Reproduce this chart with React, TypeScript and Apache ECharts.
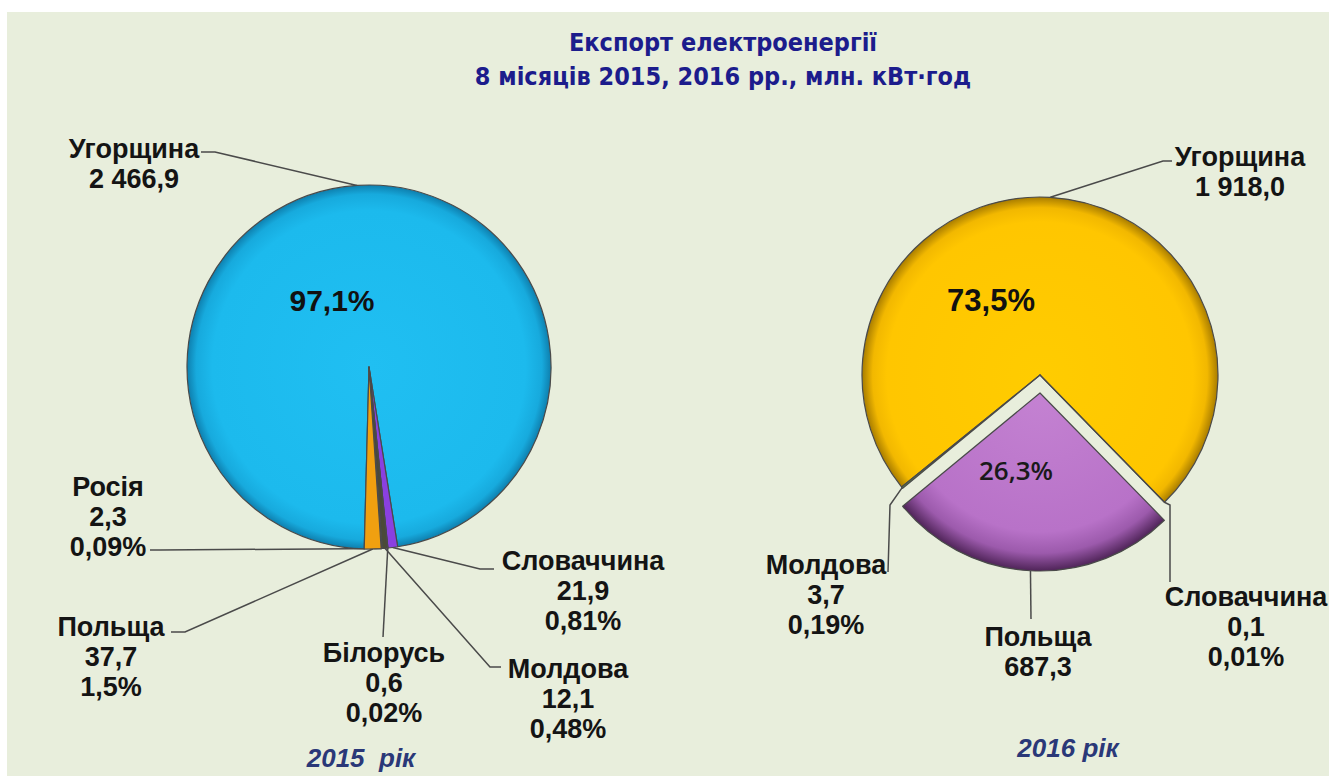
import React, { useEffect, useRef } from "react";
import * as echarts from "echarts";

// ---- data ----
const names2015 = ["Угорщина", "Словаччина", "Білорусь", "Молдова", "Росія", "Польща"];
const values2015 = [2466.9, 21.9, 0.6, 12.1, 2.3, 37.7];
const valueText2015 = ["2 466,9", "21,9", "0,6", "12,1", "2,3", "37,7"];
const share2015 = ["97,1%", "0,81%", "0,02%", "0,48%", "0,09%", "1,5%"];

const names2016 = ["Угорщина", "Словаччина", "Польща", "Молдова"];
const values2016 = [1918.0, 0.1, 687.3, 3.7];
const valueText2016 = ["1 918,0", "0,1", "687,3", "3,7"];
const share2016 = ["73,5%", "0,01%", "26,3%", "0,19%"];

const titleLines = ["Експорт електроенергії", "8 місяців 2015, 2016 рр., млн. кВт·год"];
const yearLabels = ["2015  рік", "2016 рік"];

// ---- layout / style ----
const LABEL_FONT = "'Liberation Sans', Arial, sans-serif";
const C1 = [369, 367];
const R1 = 182;
const C2 = [1040, 375];
const R2 = 178;
const EXPLODE = 18; // exploded slice offset (pixels, straight down)
const EXPLODED_INDEX_2016 = 2;

const labelCenters2015 = [
  [134, 164], [583, 591], [384, 683], [568, 699], [108, 517], [111, 657],
];
const labelLineTail2015 = [
  [[215, 152], [201, 152]],
  [[480, 569], [494, 569]],
  [[383, 637], [383, 637]],
  [[490, 667], [501, 667]],
  [[160, 550], [150, 550]],
  [[185, 632], [171, 632]],
];
const insideCenters2015 = [[332, 300]];

const labelCenters2016 = [[1240, 172], [1246, 627], [1038, 652], [826, 595]];
const labelLineTail2016 = [
  [[1163, 161], [1172, 161]],
  [[1170, 505], [1170, 582]],
  [[1031, 619], [1031, 619]],
  [[890, 505], [888, 572]],
];
const insideCenters2016: Record<number, number[]> = { 0: [991, 300], 2: [1016, 470] };

const colors2015 = ["#1ebcee", "#8a40e0", "#62a030", "#4a4a38", "#6a3a28", "#f0a010"];
const colors2016 = ["#ffc800", "#3a7ad0", "#b872c8", "#60a040"];

const TRANSPARENT = "rgba(0,0,0,0)";

function radial(cx: number, cy: number, r: number, stops: [number, string][]) {
  return {
    type: "radial",
    x: cx,
    y: cy,
    r,
    global: true,
    colorStops: stops.map(([offset, color]) => ({ offset, color })),
  };
}

function buildOptions() {
  const total2015 = values2015.reduce((a, b) => a + b, 0);
  const total2016 = values2016.reduce((a, b) => a + b, 0);

  const outsideText = (i: number, names: string[], vt: string[], sh: string[], vals: number[], tot: number) =>
    vals[i] / tot > 0.1 ? `${names[i]}\n${vt[i]}` : `${names[i]}\n${vt[i]}\n${sh[i]}`;

  const labelBase = {
    show: true,
    position: "outside",
    fontFamily: LABEL_FONT,
    fontWeight: "bold",
    fontSize: 27,
    lineHeight: 30,
    color: "#141414",
  };
  const lineStyle = { color: "#4a4a4a", width: 1.5 };
  const border = { borderColor: "#4a4a4a", borderWidth: 1.2 };

  const data2015 = names2015.map((n, i) => ({
    name: n,
    value: values2015[i],
    itemStyle: {
      color:
        i === 0
          ? radial(C1[0], C1[1], R1, [
              [0, "#20bff2"],
              [0.86, "#1cbaed"],
              [0.95, "#17aadd"],
              [1, "#0e7fae"],
            ])
          : colors2015[i],
    },
    label: { formatter: outsideText(i, names2015, valueText2015, share2015, values2015, total2015) },
  }));

  // right pie, in place (exploded slice hidden here)
  const data2016 = names2016.map((n, i) => {
    const exploded = i === EXPLODED_INDEX_2016;
    return {
      name: n,
      value: values2016[i],
      itemStyle: exploded
        ? { color: TRANSPARENT, borderWidth: 0 }
        : {
            color:
              i === 0
                ? radial(C2[0], C2[1], R2, [
                    [0, "#ffcc00"],
                    [0.86, "#ffc600"],
                    [0.94, "#f2b800"],
                    [1, "#a87c00"],
                  ])
                : colors2016[i],
          },
      label: exploded
        ? { show: false }
        : { formatter: outsideText(i, names2016, valueText2016, share2016, values2016, total2016) },
      labelLine: exploded ? { show: false } : undefined,
    };
  });

  // right pie, exploded slice only
  const C2x = [C2[0], C2[1] + EXPLODE];
  const data2016x = names2016.map((n, i) => {
    const exploded = i === EXPLODED_INDEX_2016;
    return {
      name: n,
      value: values2016[i],
      itemStyle: exploded
        ? {
            color: radial(C2x[0], C2x[1], R2, [
              [0, "#c482d2"],
              [0.78, "#b872c8"],
              [0.9, "#9c5aac"],
              [1, "#4f2458"],
            ]),
            ...border,
          }
        : { color: TRANSPARENT, borderWidth: 0 },
      label: exploded
        ? { formatter: outsideText(i, names2016, valueText2016, share2016, values2016, total2016) }
        : { show: false },
      labelLine: exploded ? undefined : { show: false },
    };
  });

  const mkLayout = (centers: number[][], tails: number[][][]) => (p: any) => {
    const i = p.dataIndex;
    const c = centers[i];
    const pts = p.labelLinePoints;
    const res: any = { x: c[0], y: c[1], align: "center", verticalAlign: "middle" };
    if (pts && pts.length) res.labelLinePoints = [pts[0], ...tails[i]];
    return res;
  };

  const insideLabel = {
    show: true,
    position: "inside",
    fontFamily: LABEL_FONT,
    fontWeight: "bold",
    fontSize: 31,
    color: "#111",
  };

  const overlay2015 = names2015.map((n, i) => ({
    name: n,
    value: values2015[i],
    label: i === 0 ? { show: true, formatter: share2015[i], fontSize: 30 } : { show: false },
  }));
  const overlay2016 = names2016.map((n, i) => ({
    name: n,
    value: values2016[i],
    label:
      insideCenters2016[i] != null
        ? {
            show: true,
            formatter: share2016[i],
            fontWeight: i === EXPLODED_INDEX_2016 ? 600 : "bold",
            fontSize: i === EXPLODED_INDEX_2016 ? 26 : 31,
            fontFamily: i === EXPLODED_INDEX_2016 ? "'Open Sans', 'Liberation Sans', sans-serif" : LABEL_FONT,
            color: i === EXPLODED_INDEX_2016 ? "#1a1a1a" : "#111",
          }
        : { show: false },
  }));

  const pieCommon = {
    type: "pie",
    clockwise: true,
    avoidLabelOverlap: false,
    emphasis: { disabled: true },
  };

  const yearStyle = {
    fontFamily: LABEL_FONT,
    fontStyle: "italic",
    fontWeight: "bold",
    fontSize: 26,
    color: "#2a3878",
  };

  return {
    animation: false,
    backgroundColor: "#ffffff",
    graphic: [
      {
        type: "rect",
        z: -10,
        silent: true,
        shape: { x: 7, y: 12, width: 1322, height: 764 },
        style: { fill: "#e8eedc" },
      },
    ],
    title: [
      {
        text: titleLines.join("\n"),
        left: 718,
        top: 20,
        textAlign: "center",
        textStyle: {
          fontFamily: "'Liberation Sans Narrow', 'DejaVu Sans Condensed', sans-serif",
          fontWeight: "bold",
          fontSize: 25,
          lineHeight: 34,
          color: "#1c1c8c",
        },
      },
      { text: yearLabels[0], left: 356, top: 740, textAlign: "center", textStyle: yearStyle },
      { text: yearLabels[1], left: 1063, top: 730, textAlign: "center", textStyle: yearStyle },
    ],
    series: [
      {
        ...pieCommon,
        center: C1,
        radius: R1,
        startAngle: 268.5,
        itemStyle: border,
        label: labelBase,
        labelLine: { show: true, length: 10, length2: 10, lineStyle },
        labelLayout: mkLayout(labelCenters2015, labelLineTail2015),
        data: data2015,
      },
      {
        ...pieCommon,
        center: C2,
        radius: R2,
        startAngle: 219,
        itemStyle: border,
        label: labelBase,
        labelLine: { show: true, length: 10, length2: 10, lineStyle },
        labelLayout: mkLayout(labelCenters2016, labelLineTail2016),
        data: data2016,
      },
      {
        ...pieCommon,
        center: C2x,
        radius: R2,
        startAngle: 219,
        label: labelBase,
        labelLine: { show: true, length: 10, length2: 10, lineStyle },
        labelLayout: mkLayout(labelCenters2016, labelLineTail2016),
        data: data2016x,
      },
      {
        ...pieCommon,
        center: C1,
        radius: R1,
        startAngle: 268.5,
        silent: true,
        itemStyle: { color: TRANSPARENT, borderWidth: 0 },
        label: insideLabel,
        labelLine: { show: false },
        labelLayout: (p: any) => {
          const c = insideCenters2015[p.dataIndex] || [0, 0];
          return { x: c[0], y: c[1], align: "center", verticalAlign: "middle" };
        },
        data: overlay2015,
      },
      {
        ...pieCommon,
        center: C2,
        radius: R2,
        startAngle: 219,
        silent: true,
        itemStyle: { color: TRANSPARENT, borderWidth: 0 },
        label: insideLabel,
        labelLine: { show: false },
        labelLayout: (p: any) => {
          const c = insideCenters2016[p.dataIndex] || [0, 0];
          return { x: c[0], y: c[1], align: "center", verticalAlign: "middle" };
        },
        data: overlay2016,
      },
    ],
  };
}

export default function App() {
  const ref = useRef<HTMLDivElement>(null);
  useEffect(() => {
    if (!ref.current) return;
    const chart = echarts.init(ref.current, undefined, { renderer: "svg" });
    chart.setOption(buildOptions() as any);
    return () => chart.dispose();
  }, []);
  return (
    <div
      ref={ref}
      style={{ position: "fixed", left: 0, top: 0, width: 1329, height: 776 }}
    />
  );
}
